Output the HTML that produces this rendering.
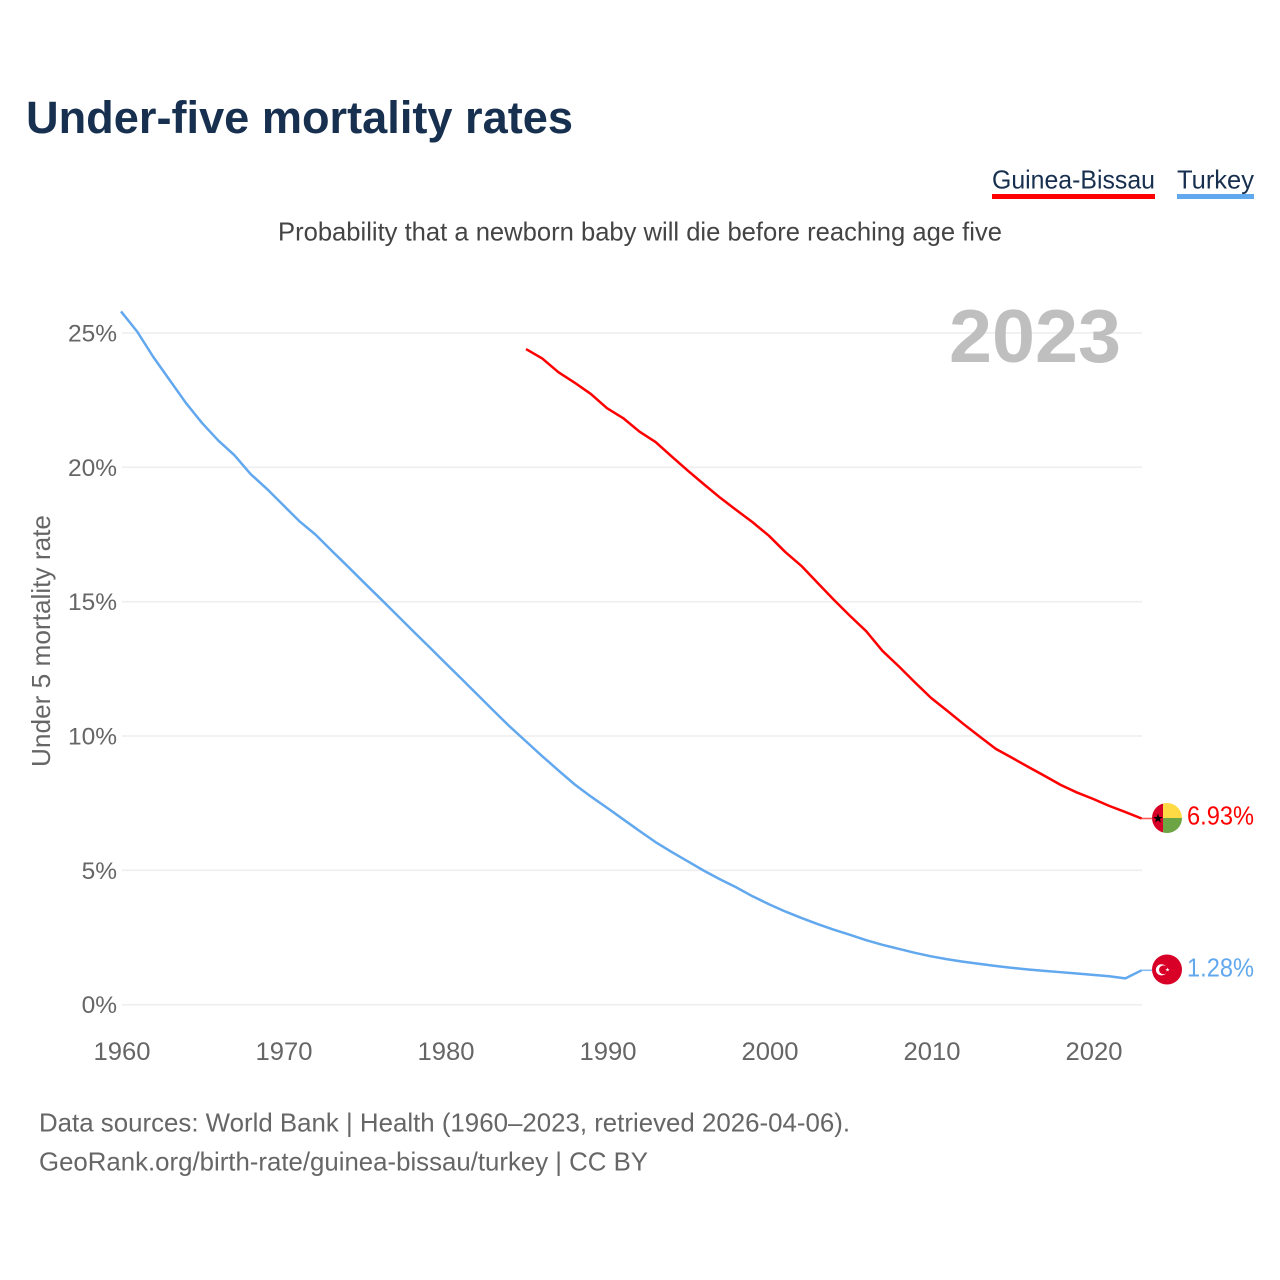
<!DOCTYPE html>
<html lang="en">
<head>
<meta charset="utf-8">
<title>Under-five mortality rates</title>
<style>
html,body{margin:0;padding:0;background:#fff;}
svg{display:block;font-family:"Liberation Sans",sans-serif;}
</style>
</head>
<body>
<svg id="chart" xmlns="http://www.w3.org/2000/svg" width="1280" height="1280" viewBox="0 0 1280 1280">
  <text x="26" y="133" font-size="45" font-weight="700" fill="#18304f" textLength="547" lengthAdjust="spacingAndGlyphs">Under-five mortality rates</text>

  <text x="992" y="188.5" font-size="26" fill="#18304f" textLength="163" lengthAdjust="spacingAndGlyphs">Guinea-Bissau</text>
  <rect x="992" y="194" width="163" height="5" fill="#ff0000"/>
  <text x="1177" y="188.5" font-size="26" fill="#18304f" textLength="77" lengthAdjust="spacingAndGlyphs">Turkey</text>
  <rect x="1177" y="194" width="77" height="5" fill="#62a8ee"/>

  <text x="278" y="240.5" font-size="26" fill="#444" textLength="724" lengthAdjust="spacingAndGlyphs">Probability that a newborn baby will die before reaching age five</text>

  <g id="grid"></g>
  <g id="yticks"></g>
  <g id="xticks"></g>

  <text x="949" y="362" font-size="75" font-weight="700" fill="#bfbfbf" textLength="172" lengthAdjust="spacingAndGlyphs">2023</text>

  <text transform="translate(50,767) rotate(-90)" font-size="26" fill="#666" textLength="252" lengthAdjust="spacingAndGlyphs">Under 5 mortality rate</text>

  <g id="series"></g>

  <g id="endmarks"></g>

  <g>
    <clipPath id="clip-gw"><circle cx="1167" cy="818" r="15"/></clipPath>
    <g clip-path="url(#clip-gw)">
      <rect x="1152" y="803" width="11" height="30" fill="#d80027"/>
      <rect x="1163" y="803" width="19" height="15" fill="#ffda44"/>
      <rect x="1163" y="818" width="19" height="15" fill="#6da544"/>
      <polygon points="1158,813.5 1159.2,817 1162.6,817 1159.9,819.1 1160.9,822.5 1158,820.4 1155.1,822.5 1156.1,819.1 1153.4,817 1156.8,817" fill="#000"/>
    </g>
  </g>
  <g>
    <circle cx="1167" cy="969.5" r="15" fill="#d80027"/>
    <circle cx="1161.5" cy="969.8" r="5.6" fill="#fff"/>
    <circle cx="1163.4" cy="969.8" r="4.4" fill="#d80027"/>
    <polygon points="1167.5,967.5 1168,969 1169.6,969 1168.3,970 1168.8,971.5 1167.5,970.6 1166.2,971.5 1166.7,970 1165.4,969 1167,969" fill="#fff"/>
  </g>

  <text x="1187" y="824.5" font-size="26" fill="#ff0000" textLength="67" lengthAdjust="spacingAndGlyphs">6.93%</text>
  <text x="1187" y="976.5" font-size="26" fill="#62a8ee" textLength="67" lengthAdjust="spacingAndGlyphs">1.28%</text>

  <text x="39" y="1131.5" font-size="26" fill="#666" textLength="811" lengthAdjust="spacingAndGlyphs">Data sources: World Bank | Health (1960–2023, retrieved 2026-04-06).</text>
  <text x="39" y="1170.5" font-size="26" fill="#666" textLength="609" lengthAdjust="spacingAndGlyphs">GeoRank.org/birth-rate/guinea-bissau/turkey | CC BY</text>
</svg>
<script>
const yTickValues = [0, 5, 10, 15, 20, 25];
const yTickLabels = ["0%", "5%", "10%", "15%", "20%", "25%"];
const xTickYears = [1960, 1970, 1980, 1990, 2000, 2010, 2020];
const xTickLabels = ["1960", "1970", "1980", "1990", "2000", "2010", "2020"];
const turkeyStartYear = 1960;
const turkeyValues = [
  25.8, 25.05, 24.1, 23.25, 22.4, 21.65, 21.0, 20.45, 19.75, 19.2,
  18.6, 18.0, 17.5, 16.9, 16.31, 15.71, 15.12, 14.52, 13.92, 13.33,
  12.73, 12.14, 11.54, 10.94, 10.35, 9.8, 9.25, 8.72, 8.2, 7.75,
  7.33, 6.9, 6.47, 6.05, 5.68, 5.33, 4.98, 4.66, 4.36, 4.03,
  3.74, 3.47, 3.23, 3.0, 2.79, 2.6, 2.4, 2.23, 2.08, 1.93,
  1.8, 1.69, 1.6, 1.52, 1.44, 1.37, 1.31, 1.26, 1.21, 1.16,
  1.11, 1.06, 0.98, 1.28
];
const guineaStartYear = 1985;
const guineaValues = [
  24.4, 24.05, 23.54, 23.15, 22.73, 22.2, 21.83, 21.33, 20.94, 20.4,
  19.87, 19.36, 18.86, 18.4, 17.95, 17.45, 16.85, 16.33, 15.7, 15.07,
  14.47, 13.9, 13.17, 12.6, 12.0, 11.42, 10.94, 10.45, 9.98, 9.52,
  9.19, 8.85, 8.52, 8.18, 7.9, 7.66, 7.4, 7.17, 6.93
];

const NS = "http://www.w3.org/2000/svg";
function xScale(year) { return 121 + (year - 1960) * 16.2; }
function yScale(value) { return 1004.7 - value * 26.87; }
function make(tag, attrs, text) {
  const el = document.createElementNS(NS, tag);
  for (const k in attrs) el.setAttribute(k, attrs[k]);
  if (text !== undefined) el.textContent = text;
  return el;
}
const grid = document.getElementById("grid");
const yticks = document.getElementById("yticks");
const xticks = document.getElementById("xticks");
const series = document.getElementById("series");
const endmarks = document.getElementById("endmarks");

yTickValues.forEach(function (v, i) {
  const line = make("line", {x1: 122, x2: 1142, y1: yScale(v), y2: yScale(v), stroke: "#eeeeee", "stroke-width": 1.6});
  
  
  grid.appendChild(line);
  const label = make("text", {x: 117, y: yScale(v) + 8.5, "font-size": 24.5, fill: "#666", "text-anchor": "end"}, yTickLabels[i]);
  
  
  yticks.appendChild(label);
});

xTickYears.forEach(function (year, i) {
  const label = make("text", {x: xScale(year) + 1, y: 1060, "font-size": 25, fill: "#666", "text-anchor": "middle", textLength: 57, lengthAdjust: "spacingAndGlyphs"}, xTickLabels[i]);
  
  
  xticks.appendChild(label);
});

function linePoints(startYear, values) {
  return values.map(function (v, i) {
    return xScale(startYear + i).toFixed(2) + "," + yScale(v).toFixed(2);
  }).join(" ");
}

const turkeyLine = make("polyline", {points: linePoints(turkeyStartYear, turkeyValues), fill: "none", stroke: "#62a8ee", "stroke-width": 2.5, "stroke-linejoin": "round"});


series.appendChild(turkeyLine);

const guineaLine = make("polyline", {points: linePoints(guineaStartYear, guineaValues), fill: "none", stroke: "#ff0000", "stroke-width": 2.5, "stroke-linejoin": "round"});


series.appendChild(guineaLine);

const turkeyLast = turkeyValues[turkeyValues.length - 1];
const turkeyStub = make("line", {x1: xScale(2023), x2: 1152, y1: yScale(turkeyLast), y2: yScale(turkeyLast), stroke: "#62a8ee", "stroke-width": 1.6, opacity: 0.75});


endmarks.appendChild(turkeyStub);

const guineaLast = guineaValues[guineaValues.length - 1];
const guineaStub = make("line", {x1: xScale(2023), x2: 1152, y1: yScale(guineaLast), y2: yScale(guineaLast), stroke: "#ff0000", "stroke-width": 1.6, opacity: 0.65});


endmarks.appendChild(guineaStub);
</script>
</body>
</html>
